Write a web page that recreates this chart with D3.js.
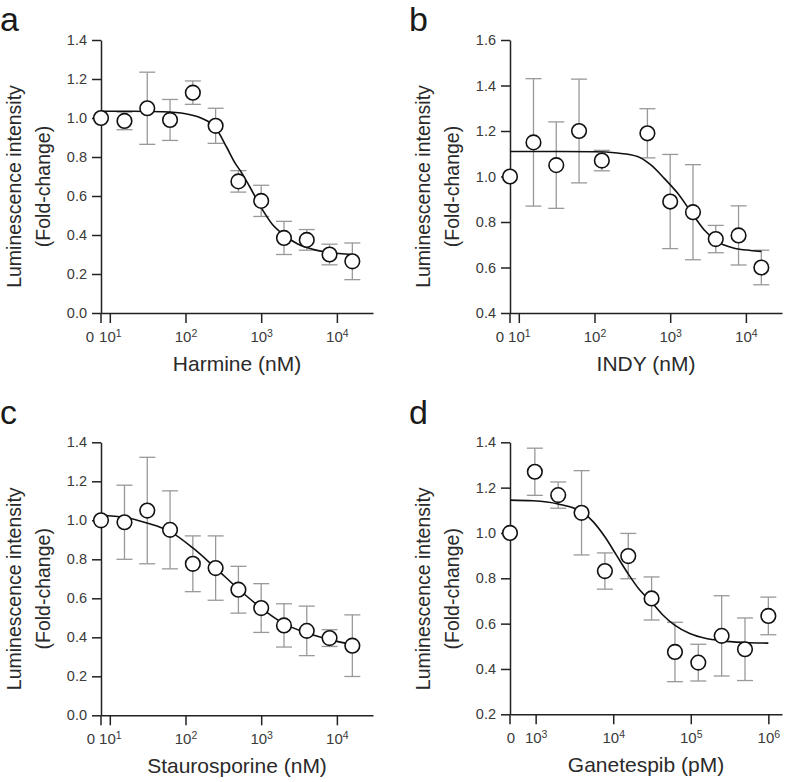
<!DOCTYPE html>
<html>
<head>
<meta charset="utf-8">
<script src="https://cdnjs.cloudflare.com/ajax/libs/d3/7.8.5/d3.min.js"></script>
<style>
  body { margin: 0; background: #fff; }
  svg { display: block; }
  text { font-family: "Liberation Sans", Arial, Helvetica, sans-serif; }
</style>
</head>
<body>
<svg id="fig" width="787" height="782"></svg>
<script>
// ---- data ----
// concentration 0 = untreated control, drawn at the axis origin
var concNM = [0, 15.625, 31.25, 62.5, 125, 250, 500, 1000, 2000, 4000, 8000, 16000];
var concIndy = [0, 15.625, 31.25, 62.5, 125, 500, 1000, 2000, 4000, 8000, 16000];
var concPM = [0, 976.5625, 1953.125, 3906.25, 7812.5, 15625, 31250, 62500, 125000, 250000, 500000, 1000000];

var harmineMean = [1.00, 0.985, 1.05, 0.99, 1.13, 0.96, 0.675, 0.575, 0.385, 0.375, 0.30, 0.265];
var harmineErr  = [0, 0.045, 0.185, 0.105, 0.06, 0.09, 0.055, 0.08, 0.085, 0.053, 0.053, 0.094];
var harmineFitX = [7.65, 20, 50, 100, 160, 250, 350, 450, 550, 700, 1000, 1400, 2000, 3000, 5000, 8000, 16000];
var harmineFitY = [1.035, 1.035, 1.032, 1.022, 1.0, 0.95, 0.85, 0.77, 0.72, 0.65, 0.54, 0.455, 0.40, 0.355, 0.325, 0.31, 0.30];

var indyMean = [1.00, 1.15, 1.05, 1.20, 1.07, 1.19, 0.89, 0.843, 0.725, 0.741, 0.60];
var indyErr  = [0, 0.28, 0.19, 0.228, 0.045, 0.108, 0.207, 0.209, 0.06, 0.13, 0.076];
var indyFitX = [7.65, 100, 200, 370, 550, 830, 1250, 1870, 2800, 4200, 7000, 11600, 16000];
var indyFitY = [1.11, 1.109, 1.103, 1.088, 1.052, 0.993, 0.927, 0.846, 0.766, 0.714, 0.685, 0.675, 0.671];

var stauroMean = [1.00, 0.99, 1.05, 0.951, 0.777, 0.755, 0.644, 0.55, 0.461, 0.433, 0.396, 0.357];
var stauroErr  = [0, 0.19, 0.273, 0.2, 0.143, 0.165, 0.12, 0.125, 0.111, 0.127, 0.043, 0.158];
var stauroFitX = [7.65, 15.6, 31, 62, 125, 250, 500, 1000, 2000, 4000, 8000, 16000];
var stauroFitY = [1.025, 1.016, 0.986, 0.943, 0.858, 0.755, 0.648, 0.55, 0.47, 0.422, 0.388, 0.362];

var ganeMean = [1.00, 1.27, 1.167, 1.089, 0.832, 0.898, 0.711, 0.475, 0.428, 0.546, 0.487, 0.634];
var ganeErr  = [0, 0.104, 0.058, 0.186, 0.08, 0.1, 0.095, 0.131, 0.081, 0.177, 0.138, 0.083];
var ganeFitX = [467, 930, 1950, 3900, 5500, 7800, 11000, 15500, 22000, 31000, 44000, 62000, 97000, 158000, 250000, 500000, 1000000];
var ganeFitY = [1.145, 1.142, 1.128, 1.094, 1.05, 0.983, 0.902, 0.821, 0.748, 0.696, 0.637, 0.593, 0.556, 0.534, 0.524, 0.517, 0.514];

var yTicks14 = [0, 0.2, 0.4, 0.6, 0.8, 1.0, 1.2, 1.4];
var yTicksIndy = [0.4, 0.6, 0.8, 1.0, 1.2, 1.4, 1.6];
var yTicksGane = [0.2, 0.4, 0.6, 0.8, 1.0, 1.2, 1.4];
var xTicksNM = [10, 100, 1000, 10000];
var xTicksPM = [1000, 10000, 100000, 1000000];

var panels = [
  {letter: 'a', title: 'Harmine (nM)', conc: concNM, mean: harmineMean, err: harmineErr,
   fitX: harmineFitX, fitY: harmineFitY, yDomain: [0, 1.4], yTicks: yTicks14,
   xDomain: [7.65, 30000], xTicks: xTicksNM, left: 101, top: 40, h: 273, zeroDx: -11, lx: 0, ly: 31},
  {letter: 'b', title: 'INDY (nM)', conc: concIndy, mean: indyMean, err: indyErr,
   fitX: indyFitX, fitY: indyFitY, yDomain: [0.4, 1.6], yTicks: yTicksIndy,
   xDomain: [7.65, 30000], xTicks: xTicksNM, left: 510, top: 40, h: 273, zeroDx: -10, lx: 409, ly: 31},
  {letter: 'c', title: 'Staurosporine (nM)', conc: concNM, mean: stauroMean, err: stauroErr,
   fitX: stauroFitX, fitY: stauroFitY, yDomain: [0, 1.4], yTicks: yTicks14,
   xDomain: [7.65, 30000], xTicks: xTicksNM, left: 101, top: 442.3, h: 273, zeroDx: -10, lx: 0, ly: 424},
  {letter: 'd', title: 'Ganetespib (pM)', conc: concPM, mean: ganeMean, err: ganeErr,
   fitX: ganeFitX, fitY: ganeFitY, yDomain: [0.2, 1.4], yTicks: yTicksGane,
   xDomain: [467, 1500000], xTicks: xTicksPM, left: 510, top: 442.3, h: 272, zeroDx: 1, lx: 409, ly: 424}
];

var W = 272;
var svg = d3.select('#fig');

panels.forEach(function(p) {
  var H = p.h;
  var x = d3.scaleLog().domain(p.xDomain).range([0, W]);
  var y = d3.scaleLinear().domain(p.yDomain).range([H, 0]);
  var xpos = function(c) { return c === 0 ? x.range()[0] : x(c); };

  svg.append('text')
    .attr('x', p.lx).attr('y', p.ly)
    .attr('font-size', 34).attr('fill', '#1a1a1a')
    .text(p.letter);

  var g = svg.append('g').attr('transform', 'translate(' + p.left + ',' + p.top + ')');

  // axes
  var yAxis = d3.axisLeft(y).tickValues(p.yTicks).tickSize(9).tickPadding(5)
    .tickSizeOuter(0).tickFormat(d3.format('.1f'));
  var ya = g.append('g').attr('color', '#222').call(yAxis);
  ya.selectAll('path, line').attr('stroke-width', 1.5);
  ya.selectAll('text').attr('font-size', 14.5).attr('fill', '#3a3a3a');

  var xAxis = d3.axisBottom(x).tickValues(p.xTicks).tickSize(10).tickSizeOuter(0);
  var xa = g.append('g').attr('transform', 'translate(0,' + H + ')').attr('color', '#222').call(xAxis);
  xa.selectAll('path, line').attr('stroke-width', 1.5);
  xa.selectAll('text')
    .attr('y', 29).attr('dy', null)
    .attr('font-size', 15).attr('fill', '#3a3a3a')
    .each(function(d) {
      var t = d3.select(this);
      t.text(null);
      t.append('tspan').text('10');
      t.append('tspan').attr('dy', -5.5).attr('font-size', 10.5).text(Math.round(Math.log10(d)));
    });
  // tick for the zero (control) position
  xa.append('line').attr('x1', 0).attr('x2', 0).attr('y1', 0).attr('y2', 10)
    .attr('stroke', '#222').attr('stroke-width', 1.5);
  xa.append('text').attr('x', p.zeroDx).attr('y', 29)
    .attr('text-anchor', 'middle').attr('font-size', 15).attr('fill', '#3a3a3a').text('0');

  // axis titles
  g.append('text').attr('x', W / 2).attr('y', H + 58)
    .attr('text-anchor', 'middle').attr('font-size', 21).attr('fill', '#2a2a2a')
    .text(p.title);
  g.append('text').attr('transform', 'translate(-80.5,' + 146.5 + ') rotate(-90)')
    .attr('text-anchor', 'middle').attr('font-size', 19.5).attr('fill', '#2a2a2a')
    .text('Luminescence intensity');
  g.append('text').attr('transform', 'translate(-51.5,' + 146.5 + ') rotate(-90)')
    .attr('text-anchor', 'middle').attr('font-size', 19.5).attr('fill', '#2a2a2a')
    .text('(Fold-change)');

  // error bars
  var pts = p.conc.map(function(c, i) { return {c: c, m: p.mean[i], e: p.err[i]}; })
    .filter(function(d) { return d.e > 0; });
  var eb = g.append('g').attr('stroke', '#999').attr('stroke-width', 1.3).attr('fill', 'none');
  eb.selectAll('line.v').data(pts).enter().append('line')
    .attr('x1', function(d) { return xpos(d.c); }).attr('x2', function(d) { return xpos(d.c); })
    .attr('y1', function(d) { return y(d.m - d.e); }).attr('y2', function(d) { return y(d.m + d.e); });
  [1, -1].forEach(function(s) {
    eb.selectAll('line.cap' + s).data(pts).enter().append('line')
      .attr('x1', function(d) { return xpos(d.c) - 8; }).attr('x2', function(d) { return xpos(d.c) + 8; })
      .attr('y1', function(d) { return y(d.m + s * d.e); }).attr('y2', function(d) { return y(d.m + s * d.e); });
  });

  // fitted curve
  var line = d3.line()
    .x(function(d) { return x(d[0]); })
    .y(function(d) { return y(d[1]); })
    .curve(d3.curveMonotoneX);
  g.append('path')
    .datum(p.fitX.map(function(v, i) { return [v, p.fitY[i]]; }))
    .attr('d', line).attr('fill', 'none').attr('stroke', '#111').attr('stroke-width', 1.6);

  // markers
  g.selectAll('circle').data(p.conc).enter().append('circle')
    .attr('cx', function(c) { return xpos(c); })
    .attr('cy', function(c, i) { return y(p.mean[i]); })
    .attr('r', 7.3)
    .attr('fill', '#fff').attr('stroke', '#111').attr('stroke-width', 1.6);
});
</script>
</body>
</html>
